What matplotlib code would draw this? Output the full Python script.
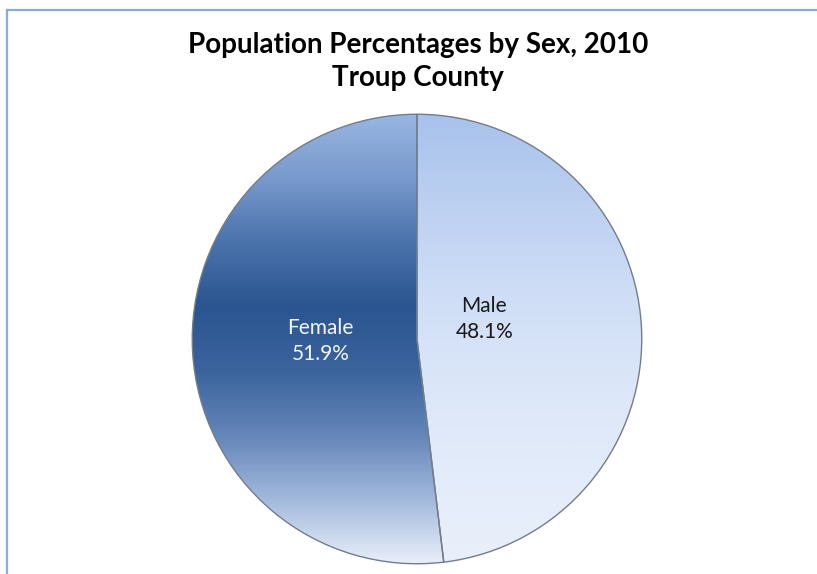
import numpy as np
import matplotlib
matplotlib.use("Agg")
import matplotlib.pyplot as plt
from matplotlib.colors import LinearSegmentedColormap
from matplotlib.lines import Line2D

# Population share by sex, 2010
categories = ["Male", "Female"]
shares = [48.1, 51.9]

title_lines = ["Population Percentages by Sex, 2010", "Troup County"]

# vertical gradient stops for each slice (top -> bottom)
female_stops = ["#98b6e2", "#7899cc", "#4a72ab", "#2b5590", "#3b649d", "#6485b8", "#a2b9dc", "#e9eff9"]
male_stops = ["#a8c2ec", "#bcd0f1", "#cfdef6", "#dbe6f8", "#e3ecfa", "#eaf0fb"]

fig = plt.figure(figsize=(8.17, 5.74), dpi=100)
fig.patch.set_facecolor("white")

# chart-area frame (top and left edges visible)
W, H = 817, 574
fig.add_artist(Line2D([7 / W, 1.0], [1 - 10 / H, 1 - 10 / H], color="#8eaadb", lw=1.6,
                      transform=fig.transFigure))
fig.add_artist(Line2D([7 / W, 7 / W], [0.0, 1 - 10 / H], color="#8eaadb", lw=1.6,
                      transform=fig.transFigure))

cx, cy, r = 417, 339, 227
ax = fig.add_axes([(cx - r) / W, (H - cy - r) / H, 2 * r / W, 2 * r / H])

wedges, texts = ax.pie(shares, labels=None, startangle=90, counterclock=False,
                       radius=1.0, wedgeprops=dict(linewidth=1.0, edgecolor="#737d8a"))
ax.set_xlim(-1.01, 1.01)
ax.set_ylim(-1.01, 1.01)
ax.set_aspect("equal")
ax.axis("off")

grad = np.linspace(0, 1, 512).reshape(-1, 1)
for wedge, stops in zip(wedges, [male_stops, female_stops]):
    cmap = LinearSegmentedColormap.from_list("g", stops)
    wedge.set_facecolor("none")
    img = ax.imshow(np.repeat(grad, 4, axis=1), cmap=cmap, extent=[-1, 1, -1, 1],
                    origin="upper", aspect="auto", zorder=0.5, interpolation="bilinear")
    img.set_clip_path(wedge)
    wedge.set_zorder(1)

# slice labels
label_font = "Lato"
ax.text(0.30, 0.09, f"{categories[0]}\n{shares[0]:.1f}%", ha="center", va="center",
        fontsize=15, color="#1a1a1a", family=label_font, linespacing=1.4, zorder=3)
ax.text(-0.43, -0.01, f"{categories[1]}\n{shares[1]:.1f}%", ha="center", va="center",
        fontsize=15, color="#f2f5fa", family=label_font, linespacing=1.4, zorder=3)

fig.text(418 / W, 1 - 45 / H, title_lines[0], ha="center", va="center", fontsize=20,
         fontweight="bold", family="Lato", color="#000000")
fig.text(418 / W, 1 - 78 / H, title_lines[1], ha="center", va="center", fontsize=20,
         fontweight="bold", family="Lato", color="#000000")

fig.savefig("out.png", dpi=100, facecolor="white")
